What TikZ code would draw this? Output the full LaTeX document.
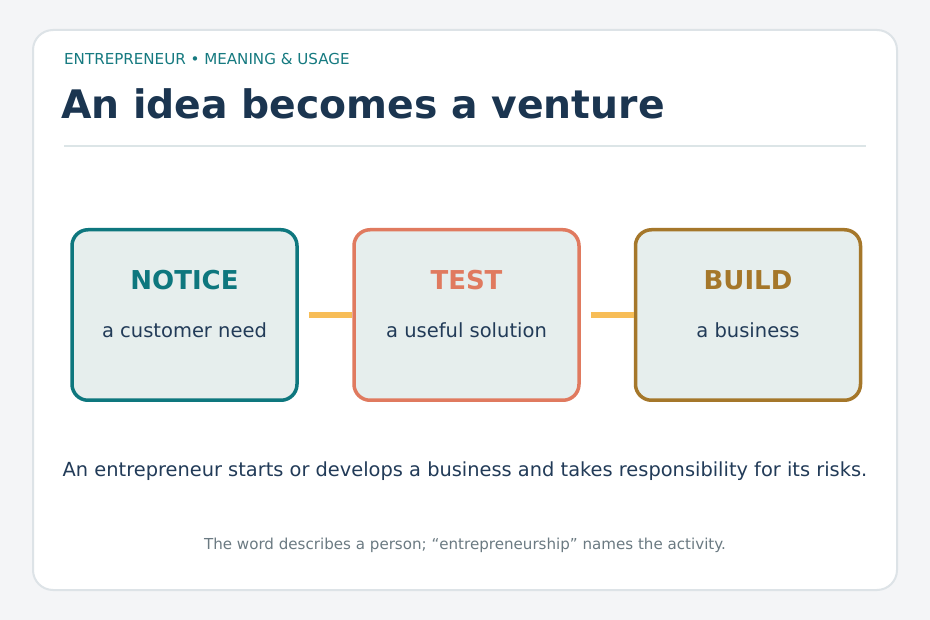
\documentclass[tikz,border=0pt]{standalone}
\usepackage{fontspec}
\setmainfont{DejaVu Sans}
\definecolor{pagebg}{HTML}{F4F5F7}
\definecolor{cardline}{HTML}{DDE3E7}
\definecolor{teal}{HTML}{167A80}
\definecolor{navy}{HTML}{1B3550}
\definecolor{bodytxt}{HTML}{223B58}
\definecolor{foot}{HTML}{6B7A82}
\definecolor{rulec}{HTML}{DCE5E7}
\definecolor{boxfill}{HTML}{E6EEED}
\definecolor{cteal}{HTML}{0E777E}
\definecolor{ccoral}{HTML}{E07A5F}
\definecolor{cochre}{HTML}{A5772A}
\definecolor{conn}{HTML}{F7BD57}
\tikzset{
  stepbox/.style={draw=#1, line width=3.5pt, fill=boxfill, rounded corners=16pt,
    minimum width=225pt, minimum height=170.5pt, inner sep=0pt},
  steptitle/.style={anchor=base, inner sep=0pt, font=\bfseries\fontsize{26}{30}\selectfont, text=#1},
  stepsub/.style={anchor=base, inner sep=0pt, font=\fontsize{19.5}{23}\selectfont, text=bodytxt},
  linkline/.style={draw=conn, line width=6pt, shorten <=10pt}
}
\begin{document}
\begin{tikzpicture}[x=1pt,y=-1pt]
\fill[pagebg] (0,0) rectangle (930,620);
\useasboundingbox (0,0) rectangle (930,620);
\draw[cardline, line width=2pt, fill=white, rounded corners=20pt] (33,30) rectangle (897,590);
\node[anchor=base west, inner sep=0pt, text=teal, font=\fontsize{15.1}{18}\selectfont] (kicker) at (64,64.5) {ENTREPRENEUR • MEANING \& USAGE};
\node[anchor=base west, inner sep=0pt, text=navy, font=\bfseries\fontsize{39.3}{46}\selectfont] (title) at (61,119) {An idea becomes a venture};
\coordinate (r1) at (64,146);
\coordinate (r2) at (866,146);
\draw[rulec, line width=2pt] (r1) -- (r2);

\node[stepbox=cteal] (b1) at (184.5,315) {};
\node[stepbox=ccoral] (b2) at (466.5,315) {};
\node[stepbox=cochre] (b3) at (748,315) {};
\draw[linkline] (b1.east) -- (b2.west);
\draw[linkline] (b2.east) -- (b3.west);

\node[steptitle=cteal] (t1) at (184.5,290) {NOTICE};
\node[stepsub] (s1) at (184.5,338) {a customer need};
\node[steptitle=ccoral] (t2) at (466.5,290) {TEST};
\node[stepsub] (s2) at (466.5,338) {a useful solution};
\node[steptitle=cochre] (t3) at (748,290) {BUILD};
\node[stepsub] (s3) at (748,338) {a business};

\node[anchor=base, inner sep=0pt, text=bodytxt, font=\fontsize{19.4}{23}\selectfont] (body) at (465,477) {An entrepreneur starts or develops a business and takes responsibility for its risks.};
\node[anchor=base, inner sep=0pt, text=foot, font=\fontsize{15.1}{18}\selectfont] (note) at (465,549) {The word describes a person; “entrepreneurship” names the activity.};
\end{tikzpicture}
\end{document}
